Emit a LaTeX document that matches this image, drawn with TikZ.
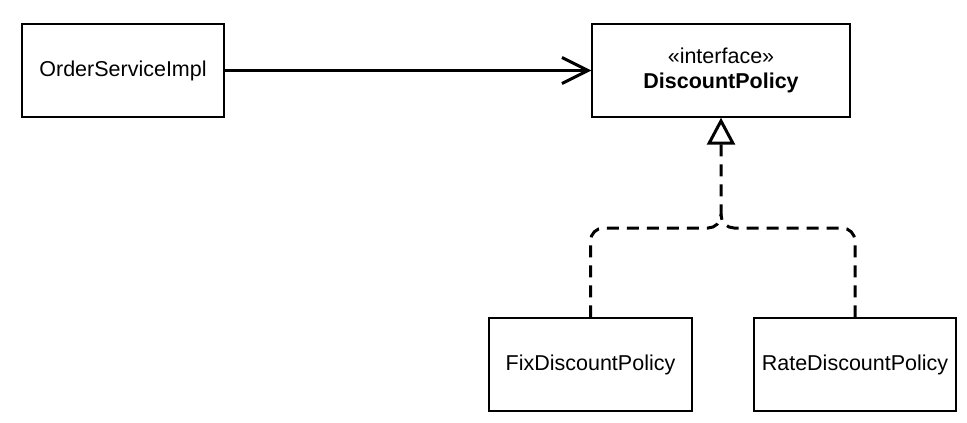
\documentclass[tikz,border=0pt]{standalone}
\usepackage{fontspec}
\setmainfont{Liberation Sans}
\usetikzlibrary{arrows.meta,calc}
\begin{document}
\begin{tikzpicture}[x=1pt,y=-1pt,
  box/.style={draw=black,line width=1.4pt,fill=white,inner sep=0pt,font=\fontsize{21.5}{25}\selectfont},
  assoc/.style={line width=3pt,-{Straight Barb[length=26pt,width=26pt,line width=3pt]}},
  realize/.style={line width=3pt,dash pattern=on 12pt off 8pt,rounded corners=13pt}]
\useasboundingbox (0,0) rectangle (967,423);
\node[box,minimum width=202pt,minimum height=93pt] (osi) at (123,70.5) {OrderServiceImpl};
\node[box,minimum width=258pt,minimum height=93pt,align=center] (dp) at (721,70.5) {«interface»\\\textbf{DiscountPolicy}};
\node[box,minimum width=203pt,minimum height=93pt] (fix) at (590.5,364.5) {FixDiscountPolicy};
\node[box,minimum width=202pt,minimum height=93pt] (rate) at (855,364.5) {RateDiscountPolicy};
\coordinate (j) at (721,228);
\draw[assoc] (osi.east) -- (dp.west);
\draw[realize,-{Triangle[open,length=27pt,width=28pt,line width=3pt,fill=white]}] (fix.north) |- (j) -- (dp.south);
\draw[realize] (rate.north) |- (j) -- ($(j)+(0,-14)$);
\end{tikzpicture}
\end{document}
